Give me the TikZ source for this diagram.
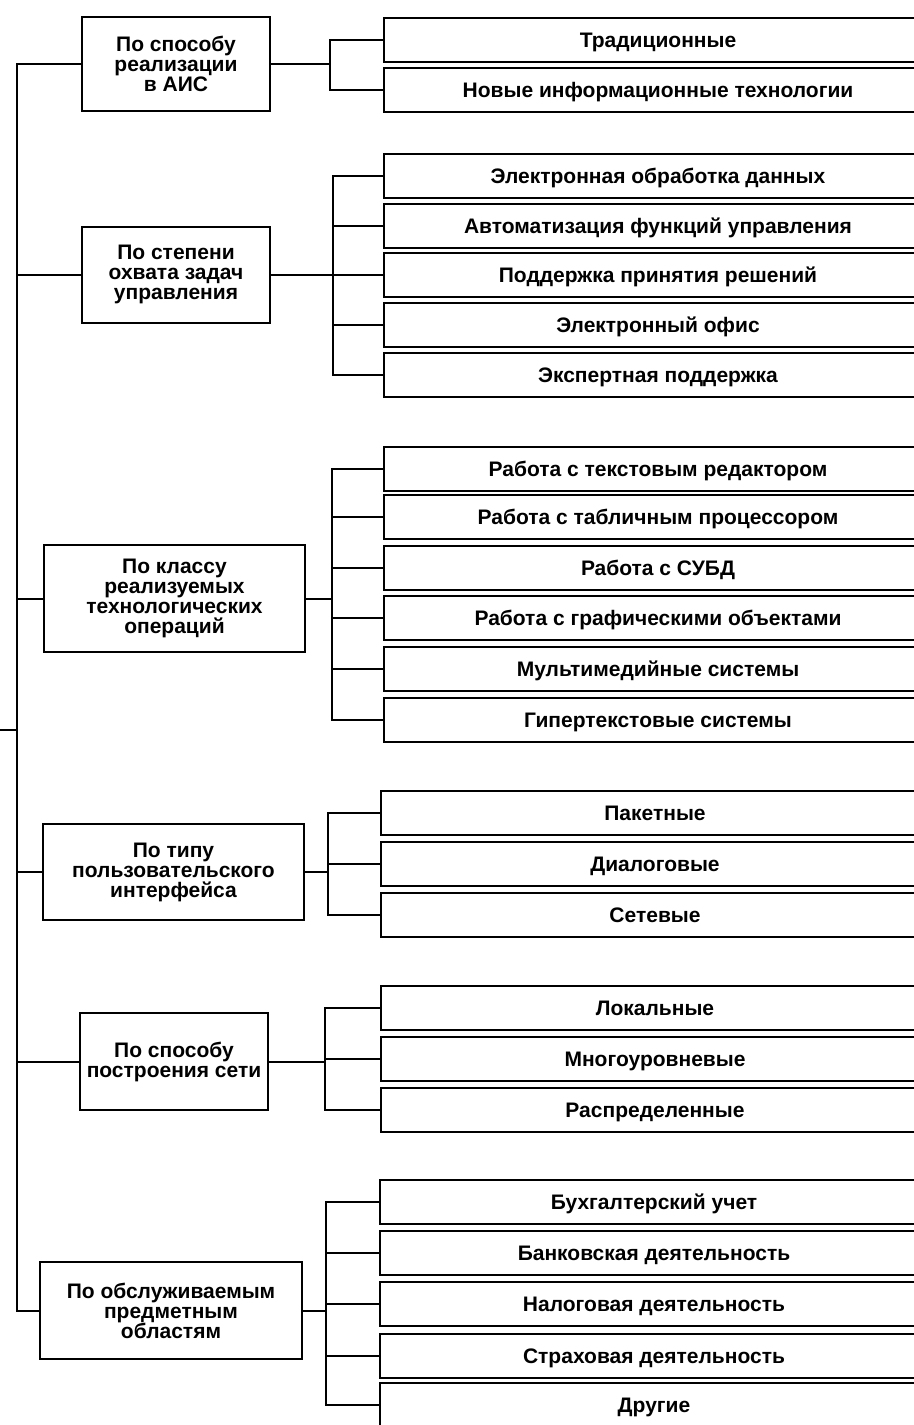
\documentclass[tikz,border=0pt]{standalone}
\usepackage{fontspec}
\setmainfont{Liberation Sans}
\begin{document}
\begin{tikzpicture}[x=0.5pt,y=-0.5pt,every node/.style={draw,line width=1pt,inner sep=0pt,font=\bfseries\fontsize{10.5}{10}\selectfont}]
        \tikzset{edge/.style = {line width=1pt}}
        \tikzset{cat/.style = {align=center,minimum height=48pt}}
        \tikzset{item/.style = {anchor=west,minimum width=274pt,minimum height=22pt,text height=7.5pt,text depth=0pt}}
        \useasboundingbox (0,0) rectangle (914,1425);
        \clip (0,0) rectangle (914,1425);

        \node[cat,minimum width=94pt,minimum height=47pt] (K1) at (176,64) {По способу\\реализации\\в АИС};
        \node[cat,minimum width=94pt] (K2) at (176,274.5) {По степени\\охвата задач\\управления};
        \node[cat,minimum width=130.5pt,minimum height=53.5pt] (K3) at (174.5,598.5) {По классу\\реализуемых\\технологических\\операций};
        \node[cat,minimum width=130.5pt] (K4) at (173.5,872) {По типу\\пользовательского\\интерфейса};
        \node[cat,minimum width=94pt,minimum height=48.5pt] (K5) at (174,1061.5) {По способу\\построения сети};
        \node[cat,minimum width=131pt,minimum height=48.5pt] (K6) at (171,1310.5) {По обслуживаемым\\предметным\\областям};

        \node[item] (K1a) at (383,39.5) {Традиционные};
        \node[item] (K1b) at (383,90) {Новые информационные технологии};

        \node[item] (K2a) at (383,176) {Электронная обработка данных};
        \node[item] (K2b) at (383,225.5) {Автоматизация функций управления};
        \node[item] (K2c) at (383,275) {Поддержка принятия решений};
        \node[item] (K2d) at (383,325) {Электронный офис};
        \node[item] (K2e) at (383,375) {Экспертная поддержка};

        \node[item] (K3a) at (383,468.5) {Работа с текстовым редактором};
        \node[item] (K3b) at (383,517) {Работа с табличным процессором};
        \node[item] (K3c) at (383,568) {Работа с СУБД};
        \node[item] (K3d) at (383,618) {Работа с графическими объектами};
        \node[item] (K3e) at (383,668.5) {Мультимедийные системы};
        \node[item] (K3f) at (383,719.5) {Гипертекстовые системы};

        \node[item] (K4a) at (380,813) {Пакетные};
        \node[item] (K4b) at (380,864) {Диалоговые};
        \node[item] (K4c) at (380,914.5) {Сетевые};

        \node[item] (K5a) at (380,1007.5) {Локальные};
        \node[item] (K5b) at (380,1058.5) {Многоуровневые};
        \node[item] (K5c) at (380,1110) {Распределенные};

        \node[item] (K6a) at (379,1201.5) {Бухгалтерский учет};
        \node[item] (K6b) at (379,1252.5) {Банковская деятельность};
        \node[item] (K6c) at (379,1304) {Налоговая деятельность};
        \node[item] (K6d) at (379,1355.5) {Страховая деятельность};
        \node[item] (K6e) at (379,1405) {Другие};

        % trunk
        \coordinate (R) at (0,730);
        \coordinate (T) at (17,730);
        \draw[edge] (R) -- (T);
        \draw[edge] (T) |- (K1.west);
        \draw[edge] (T) |- (K2.west);
        \draw[edge] (T) |- (K3.west);
        \draw[edge] (T) |- (K4.west);
        \draw[edge] (T) |- (K5.west);
        \draw[edge] (T) |- (K6.west);

        % brackets
        \coordinate (B1) at (330,64);
        \coordinate (B2) at (333,274.5);
        \coordinate (B3) at (332,598.5);
        \coordinate (B4) at (328,872);
        \coordinate (B5) at (325,1061.5);
        \coordinate (B6) at (326,1310.5);

        \draw[edge] (K1.east) -- (B1);
        \draw[edge] (B1) |- (K1a.west);
        \draw[edge] (B1) |- (K1b.west);

        \draw[edge] (K2.east) -- (B2);
        \draw[edge] (B2) |- (K2a.west);
        \draw[edge] (B2) |- (K2b.west);
        \draw[edge] (B2) |- (K2c.west);
        \draw[edge] (B2) |- (K2d.west);
        \draw[edge] (B2) |- (K2e.west);

        \draw[edge] (K3.east) -- (B3);
        \draw[edge] (B3) |- (K3a.west);
        \draw[edge] (B3) |- (K3b.west);
        \draw[edge] (B3) |- (K3c.west);
        \draw[edge] (B3) |- (K3d.west);
        \draw[edge] (B3) |- (K3e.west);
        \draw[edge] (B3) |- (K3f.west);

        \draw[edge] (K4.east) -- (B4);
        \draw[edge] (B4) |- (K4a.west);
        \draw[edge] (B4) |- (K4b.west);
        \draw[edge] (B4) |- (K4c.west);

        \draw[edge] (K5.east) -- (B5);
        \draw[edge] (B5) |- (K5a.west);
        \draw[edge] (B5) |- (K5b.west);
        \draw[edge] (B5) |- (K5c.west);

        \draw[edge] (K6.east) -- (B6);
        \draw[edge] (B6) |- (K6a.west);
        \draw[edge] (B6) |- (K6b.west);
        \draw[edge] (B6) |- (K6c.west);
        \draw[edge] (B6) |- (K6d.west);
        \draw[edge] (B6) |- (K6e.west);
\end{tikzpicture}
\end{document}
